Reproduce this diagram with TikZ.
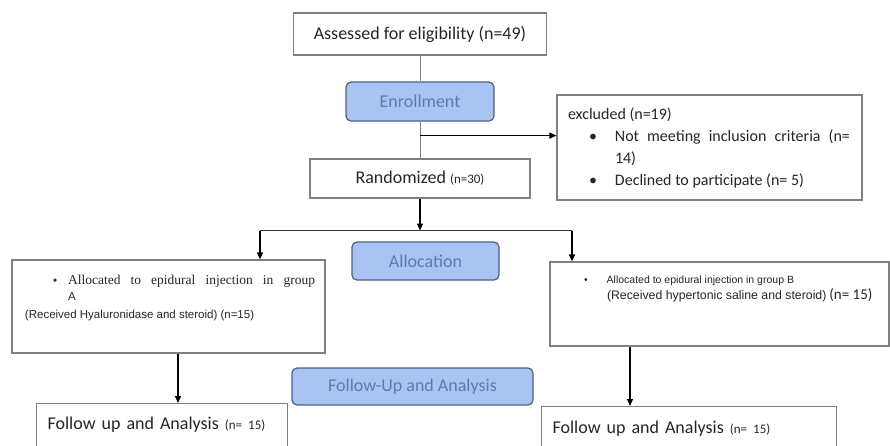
\documentclass[tikz,border=0pt]{standalone}
\usepackage{fontspec}
\setmainfont{Carlito}
\newfontfamily\arialfont{Liberation Sans}
\newfontfamily\timesfont{Liberation Serif}
\usepackage{tikz}
\usetikzlibrary{arrows.meta, positioning, calc}
\definecolor{Flow_Blue}{HTML}{A9C4F2}
\definecolor{Flow_Edge}{HTML}{4F5F80}
\definecolor{Flow_Text}{HTML}{5A7BB6}
\definecolor{Flow_Gray}{HTML}{808080}

\begin{document}
\begin{tikzpicture}[x=1pt, y=-1pt,
    box/.style={draw=Flow_Gray, line width=1.2pt, fill=white, inner sep=0pt, text=black!85},
    stage/.style={draw=Flow_Edge, line width=1.2pt, fill=Flow_Blue, rounded corners=5pt, text=Flow_Text, font=\fontsize{18}{20}\selectfont},
    arr/.style={-{Triangle[length=7pt,width=6pt]}, line width=1.3pt, black},
    link/.style={line width=1pt, Flow_Gray}]
    \path[use as bounding box, clip] (0,0) rectangle (890,445);

    % enrollment
    \node[box, minimum width=253pt, minimum height=42pt, font=\fontsize{18}{20}\selectfont] (assess) at (420,34) {Assessed for eligibility (n=49)};
    \node[stage, minimum width=148pt, minimum height=39pt] (enrol) at (420,101.5) {Enrollment};
    \node[box, minimum width=305pt, minimum height=105pt, inner xsep=11pt] (excl) at (709.5,147.5) {\parbox{283pt}{\fontsize{16}{22}\selectfont
        excluded (n=19)\\
        \hspace*{21pt}\textbullet\hspace{18pt}\makebox[235pt][s]{Not meeting inclusion criteria (n=}\\
        \hspace*{47pt}14)\\
        \hspace*{21pt}\textbullet\hspace{18pt}Declined to participate (n= 5)}};
    \node[box, minimum width=220pt, minimum height=39pt, font=\fontsize{18}{20}\selectfont] (rand) at (420,178.5) {Randomized {\fontsize{13}{14}\selectfont (n=30)}};

    % allocation
    \node[stage, minimum width=147pt, minimum height=38pt] (alloc) at (425.5,261) {Allocation};
    \node[box, minimum width=313pt, minimum height=93pt] (grpA) at (168.5,306.5) {\parbox[c][93pt][t]{313pt}{\arialfont\fontsize{11.5}{16}\selectfont
        \vspace*{15pt}
        \hspace*{41pt}\textbullet\hspace{11pt}\makebox[247pt][s]{\timesfont\fontsize{13.5}{16}\selectfont Allocated to epidural injection in group}\\
        \hspace*{56pt}A\\[2pt]
        \hspace*{13pt}(Received Hyaluronidase and steroid) (n=15)}};
    \node[box, minimum width=339pt, minimum height=84pt] (grpB) at (719.5,304) {\parbox[c][84pt][t]{339pt}{\arialfont\fontsize{10.5}{16}\selectfont
        \vspace*{14pt}
        \hspace*{34pt}\textbullet\hspace{19pt}Allocated to epidural injection in group B\\
        \hspace*{57pt}{\fontsize{12.3}{16}\selectfont(Received hypertonic saline and steroid)} {\rmfamily\fontsize{15}{16}\selectfont(n= 15)}}};

    % follow-up
    \node[stage, minimum width=241pt, minimum height=37pt] (follow) at (412.5,386.5) {Follow-Up and Analysis};
    \node[box, anchor=north west, text width=229pt, inner xsep=11pt, inner ysep=10pt, text height=16pt, text depth=30pt, align=left, font=\fontsize{18}{20}\selectfont] (folA) at (36,403) {Follow up and Analysis {\fontsize{13}{14}\selectfont (n= 15)}};
    \node[box, anchor=north west, text width=273pt, inner xsep=11pt, inner ysep=10pt, text height=17pt, text depth=30pt, align=left, font=\fontsize{18}{20}\selectfont] (folB) at (541,406) {Follow up and Analysis {\fontsize{13}{14}\selectfont (n= 15)}};

    % connectors
    \draw[link] (assess.south) -- (enrol.north);
    \draw[link] (enrol.south) -- (rand.north);
    \coordinate (exsplit) at ([yshift=-14pt]enrol.south);
    \draw[arr] (exsplit) -- (exsplit -| excl.west);
    \coordinate (split) at ([yshift=-32pt]rand.south);
    \draw[arr] (rand.south) -- (split);
    \coordinate (dropA) at ([xshift=91.5pt]grpA.north);
    \coordinate (dropB) at ([xshift=-147.5pt]grpB.north);
    \draw[line width=1pt, black!80] (dropA |- split) -- (dropB |- split);
    \draw[arr] (dropA |- split) -- (dropA);
    \draw[arr] (dropB |- split) -- (dropB);
    \draw[arr] ([xshift=9.5pt]grpA.south) -- ([xshift=9.5pt]grpA.south |- folA.north);
    \draw[arr] ([xshift=-89.5pt]grpB.south) -- ([xshift=-89.5pt]grpB.south |- folB.north);
\end{tikzpicture}
\end{document}
